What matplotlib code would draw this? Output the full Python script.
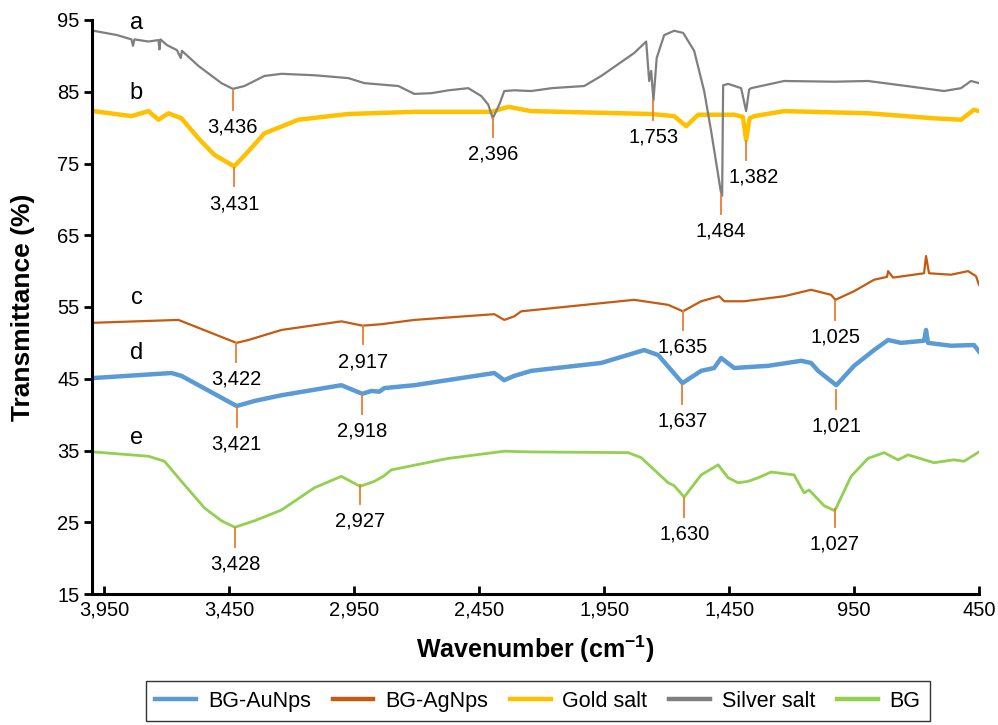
import numpy as np
import matplotlib.pyplot as plt
from matplotlib.lines import Line2D

plt.rcParams["font.family"] = ["Liberation Sans", "DejaVu Sans"]
plt.rcParams["mathtext.default"] = "regular"

# ---- data ----
silver_wn = [3994, 3900, 3842, 3836, 3830, 3774, 3734, 3730, 3726, 3700, 3660, 3645, 3640,
             3574, 3482, 3436, 3390, 3310, 3242, 3110, 2974, 2910, 2774, 2710, 2642, 2574,
             2494, 2442, 2414, 2396, 2370, 2350, 2310, 2242, 2160, 2030, 1962, 1830, 1782,
             1770, 1762, 1753, 1740, 1710, 1670, 1634, 1590, 1550, 1522, 1494, 1484, 1478,
             1474, 1454, 1402, 1382, 1370, 1362, 1230, 1030, 894, 762, 590, 522, 482, 450]
silver_t = [93.5, 92.9, 92.3, 91.4, 92.3, 92.0, 92.2, 90.9, 92.3, 91.5, 90.8, 89.7, 90.7,
            88.6, 86.2, 85.4, 85.8, 87.2, 87.5, 87.3, 86.9, 86.2, 85.8, 84.7, 84.8, 85.2,
            85.5, 84.4, 83.2, 81.3, 83.2, 85.1, 85.2, 85.1, 85.5, 85.8, 87.2, 90.4, 92.0,
            86.5, 87.9, 83.8, 89.7, 92.9, 93.5, 93.2, 90.7, 85.1, 79.5, 73.4, 71.2, 70.5,
            85.9, 86.1, 85.5, 82.3, 85.3, 85.5, 86.5, 86.4, 86.5, 85.9, 85.1, 85.5, 86.5, 86.2]

gold_wn = [3994, 3842, 3774, 3734, 3694, 3642, 3574, 3510, 3431, 3374, 3310, 3174, 2974,
           2710, 2402, 2334, 2242, 1762, 1670, 1622, 1574, 1430, 1395, 1382, 1368, 1350,
           1230, 894, 630, 522, 470, 450]
gold_t = [82.3, 81.6, 82.3, 81.1, 82.0, 81.3, 78.5, 76.2, 74.6, 76.7, 79.2, 81.1, 81.9,
          82.2, 82.2, 82.9, 82.3, 81.9, 81.6, 80.2, 81.8, 81.8, 81.5, 78.3, 81.3, 81.6,
          82.3, 82.0, 81.3, 81.1, 82.5, 82.3]

agnp_wn = [3994, 3654, 3422, 3374, 3242, 3002, 2917, 2842, 2710, 2390, 2350, 2310, 2282,
           1830, 1694, 1635, 1562, 1490, 1470, 1390, 1230, 1122, 1042, 1025, 950, 870,
           818, 814, 794, 670, 662, 650, 562, 494, 462, 450]
agnp_t = [52.8, 53.2, 50.0, 50.4, 51.8, 53.0, 52.4, 52.6, 53.2, 54.0, 53.2, 53.7, 54.4,
          56.0, 55.3, 54.4, 55.8, 56.5, 55.8, 55.8, 56.5, 57.4, 56.7, 56.0, 57.2, 58.8,
          59.2, 60.0, 59.1, 59.7, 62.1, 59.7, 59.5, 60.0, 59.3, 58.1]

aunp_wn = [3994, 3682, 3642, 3421, 3350, 3242, 3002, 2918, 2882, 2850, 2830, 2710, 2390,
           2350, 2310, 2242, 1962, 1790, 1734, 1637, 1562, 1510, 1482, 1430, 1294, 1162,
           1122, 1094, 1021, 950, 870, 814, 762, 670, 662, 654, 562, 470, 450]
aunp_t = [45.1, 45.8, 45.4, 41.2, 41.9, 42.7, 44.1, 42.9, 43.3, 43.2, 43.7, 44.1, 45.8,
          44.8, 45.4, 46.1, 47.2, 49.0, 48.3, 44.4, 46.1, 46.5, 47.9, 46.5, 46.8, 47.5,
          47.2, 46.1, 44.1, 46.8, 49.0, 50.4, 50.0, 50.3, 51.8, 50.0, 49.6, 49.7, 48.8]

bg_wn = [3994, 3774, 3710, 3642, 3550, 3482, 3428, 3350, 3242, 3110, 3002, 2927, 2870,
         2834, 2802, 2574, 2350, 2242, 2230, 1854, 1802, 1694, 1670, 1630, 1562, 1494,
         1454, 1414, 1374, 1334, 1282, 1190, 1150, 1130, 1070, 1027, 962, 894, 830, 774,
         734, 630, 550, 510, 450]
bg_t = [34.8, 34.2, 33.5, 30.7, 27.0, 25.2, 24.3, 25.2, 26.7, 29.8, 31.4, 30.0, 30.7,
        31.4, 32.3, 33.9, 34.9, 34.8, 34.8, 34.7, 34.0, 30.5, 30.1, 28.5, 31.6, 33.0,
        31.2, 30.5, 30.7, 31.2, 32.0, 31.6, 29.1, 29.5, 27.3, 26.6, 31.4, 33.9, 34.7, 33.7,
        34.4, 33.3, 33.7, 33.5, 34.8]

# marked peaks: wavenumber and transmittance at the top of the marker
peak_wn = [3436, 3431, 2396, 1753, 1484, 1382, 3422, 2917, 3421, 2918, 1635, 1025,
           1637, 1021, 3428, 2927, 1630, 1027]
peak_t = [85.1, 74.4, 81.3, 83.7, 70.6, 78.1, 50.0, 52.4, 40.9, 42.7, 54.4, 55.8,
          44.1, 43.4, 24.2, 30.2, 28.4, 26.9]

curve_letters = ["a", "b", "c", "d", "e"]
letter_t = [94.6, 84.8, 56.3, 48.6, 36.7]

x_ticks = [3950, 3450, 2950, 2450, 1950, 1450, 950, 450]
y_ticks = [15, 25, 35, 45, 55, 65, 75, 85, 95]

series = [
    ("BG-AuNps", aunp_wn, aunp_t, "#5B9BD5", 3.2),
    ("BG-AgNps", agnp_wn, agnp_t, "#C55A11", 1.6),
    ("Gold salt", gold_wn, gold_t, "#FFC000", 3.2),
    ("Silver salt", silver_wn, silver_t, "#7F7F7F", 1.6),
    ("BG", bg_wn, bg_t, "#92D050", 2.0),
]

fig = plt.figure(figsize=(9.98, 7.25), dpi=100)
ax = fig.add_axes([92 / 998, 131 / 725, 887 / 998, 574 / 725])

for name, wn, t, color, lw in series:
    ax.plot(wn, t, color=color, lw=lw, solid_joinstyle="round")

mark_color = "#ED7D31"
for wn, t in zip(peak_wn, peak_t):
    ax.plot([wn, wn], [t, t - 2.6], color=mark_color, lw=1.3)
    dx = 30 if wn == 1382 else 0
    ax.text(wn - dx, t - 5.0, f"{wn:,}", ha="center", va="center", fontsize=14.5)

for letter, t in zip(curve_letters, letter_t):
    ax.text(3822, t, letter, ha="center", va="center", fontsize=17)

ax.set_xlim(4000, 450)
ax.set_ylim(15, 95)
ax.set_xticks(x_ticks)
ax.set_xticklabels([f"{v:,}" for v in x_ticks])
ax.set_yticks(y_ticks)
ax.tick_params(axis="x", direction="in", length=6, width=2, labelsize=14.5, pad=5)
ax.tick_params(axis="y", direction="out", length=6, width=2, labelsize=14.5, pad=3)
for side in ["top", "right"]:
    ax.spines[side].set_visible(False)
for side in ["left", "bottom"]:
    ax.spines[side].set_linewidth(2.2)

ax.set_xlabel("Wavenumber (cm$^{-1}$)", fontsize=18, fontweight="bold", labelpad=10)
ax.set_ylabel("Transmittance (%)", fontsize=19, fontweight="bold", labelpad=16)

handles = [Line2D([0], [0], color=c, lw=3.2) for _, _, _, c, _ in series]
labels = [s[0] for s in series]
leg = fig.legend(handles, labels, loc="center", bbox_to_anchor=(0.539, 0.033), ncol=5,
                 fontsize=15.5, frameon=True, fancybox=False, edgecolor="black",
                 handlelength=1.9, handletextpad=0.55, columnspacing=1.0, borderpad=0.45)
leg.get_frame().set_linewidth(1.0)

fig.savefig("out.png", dpi=100)
